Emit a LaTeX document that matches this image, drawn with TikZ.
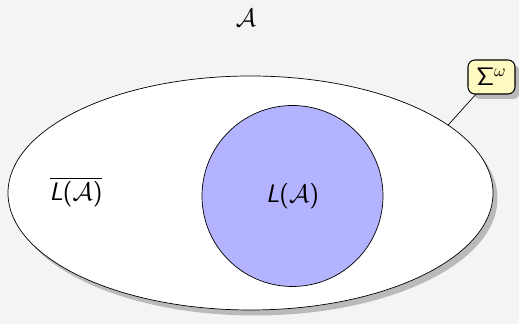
\documentclass[tikz,border=0pt]{standalone}
\usepackage{xcolor}
\definecolor{bgrey}{RGB}{244,244,244}
\definecolor{setblue}{RGB}{179,179,255}
\definecolor{noteyellow}{RGB}{255,250,192}
\usetikzlibrary{positioning,shapes.geometric,shadows}
\newcommand\langA{\textsf{\itshape L}\textsf{(}$\mathcal{A}$\textsf{)}}
\tikzset{
  universe/.style={ellipse,draw=black,fill=white,minimum width=9.7cm,minimum height=4.68cm,
                   drop shadow={shadow xshift=.09cm,shadow yshift=-.11cm,fill=black!27,opacity=1}},
  language/.style={circle,draw=black,fill=setblue,minimum size=3.62cm},
  note/.style    ={rectangle,rounded corners=4pt,draw=black,semithick,fill=noteyellow,
                   minimum width=.94cm,minimum height=.68cm,inner sep=1pt,font=\Large,
                   drop shadow={shadow xshift=.1cm,shadow yshift=-.1cm,fill=black!27,opacity=1}},
}
\begin{document}
\begin{tikzpicture}[every node/.style={font=\Large}]
  % background
  \fill[bgrey] (0,0) rectangle (10.38,-6.48);
  \useasboundingbox (0,0) rectangle (10.38,-6.48);
  % title
  \node (title) at (4.92,-.36) {$\mathcal{A}$};
  % sets
  \node[universe] (univ) at (5.01,-3.86) {};
  \node[language] (lang) at (5.85,-3.92) {\langA};
  \node (compl) at (1.52,-3.84) {$\overline{\mbox{\langA}}$};
  % universe label
  \node[note] (sig) at (9.83,-1.54) {$\mathsf{\Sigma}^\omega$};
  \draw (univ.19) -- (sig);
\end{tikzpicture}
\end{document}
